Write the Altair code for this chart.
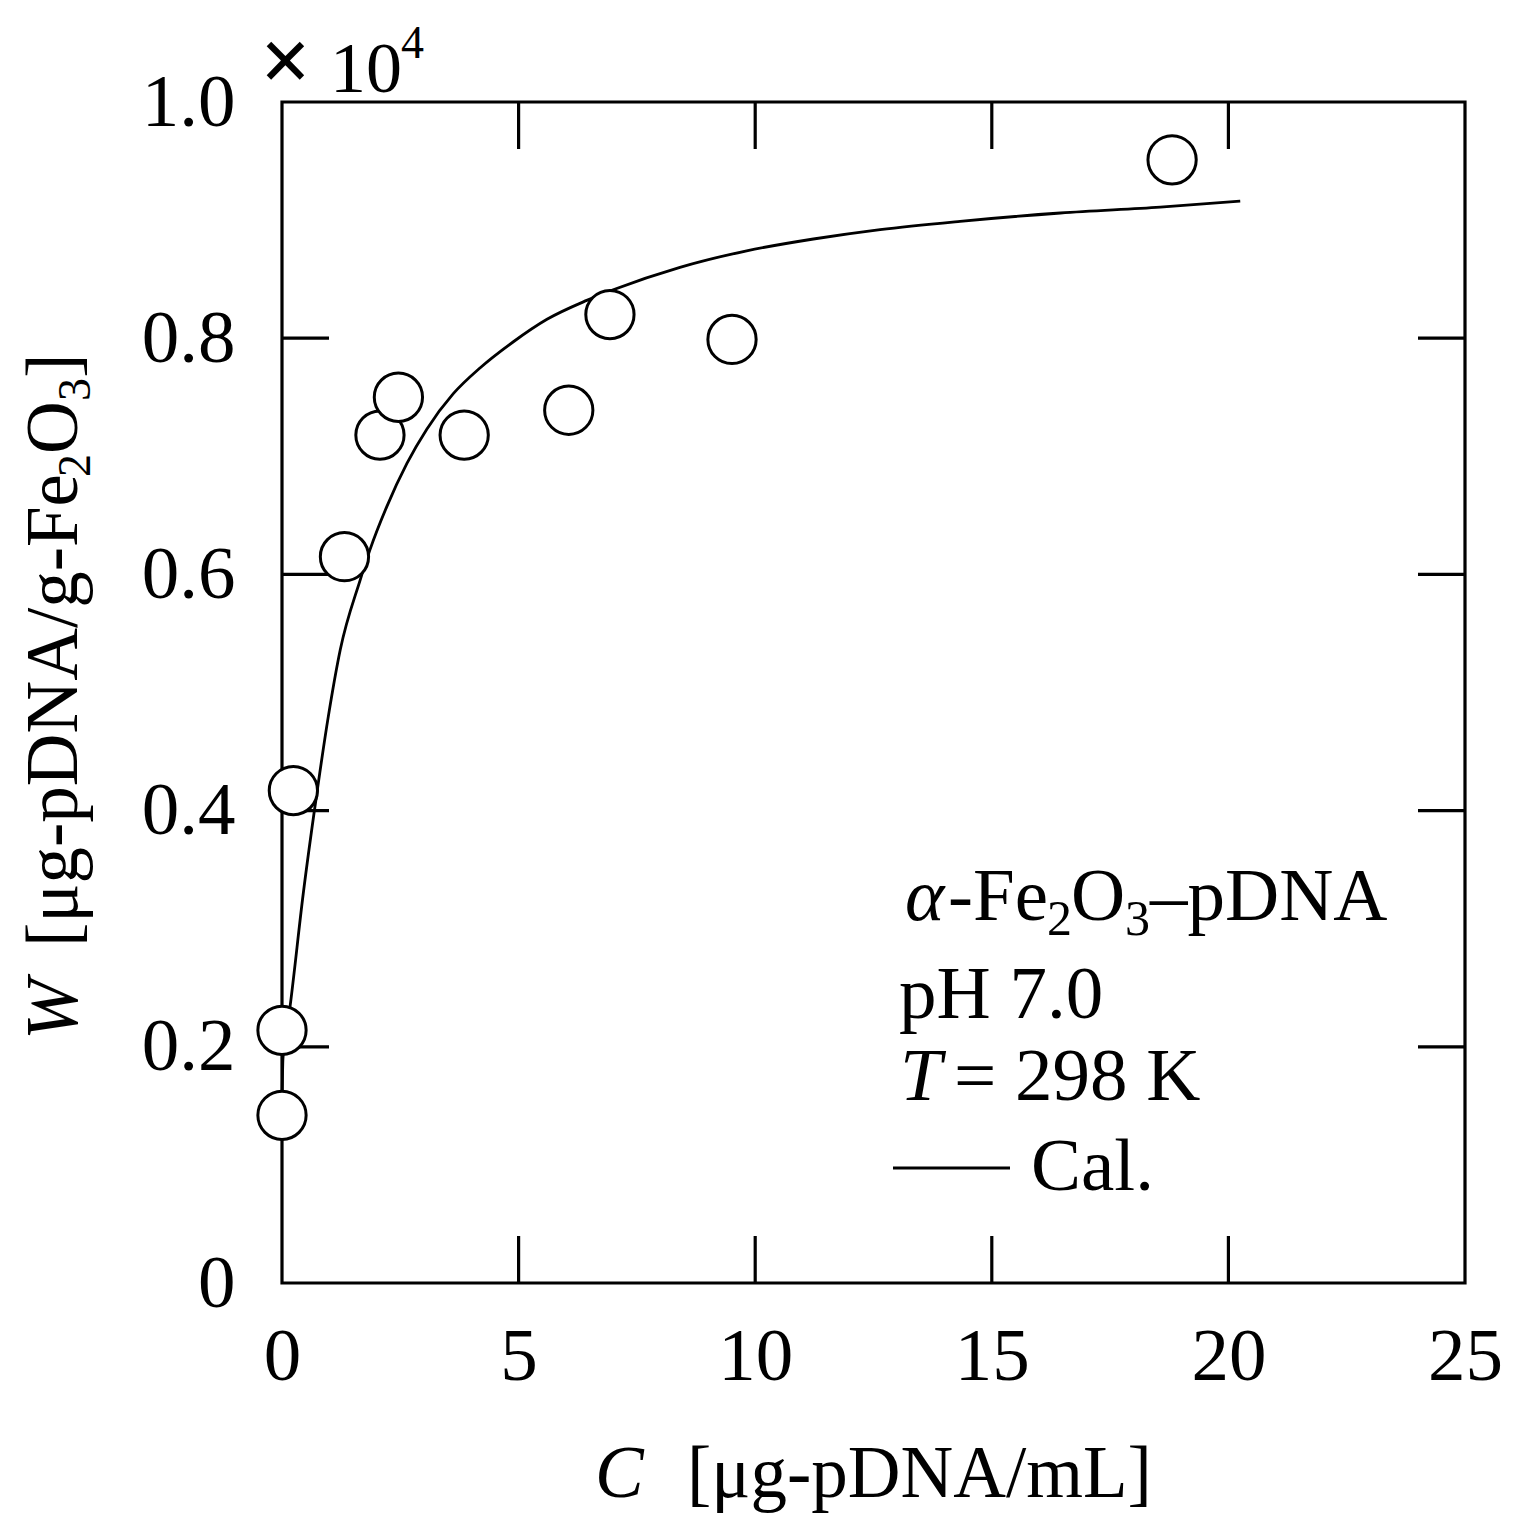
import altair as alt
import pandas as pd

# ---- data (W in units of 10^4 ug-pDNA/g-Fe2O3) ----
C_obs = [0.0, 0.0, 0.24, 1.32, 2.07, 2.46, 3.85, 6.06, 6.93, 9.51, 18.81]
W_obs = [0.142, 0.214, 0.417, 0.615, 0.718, 0.750, 0.718, 0.739, 0.820, 0.799, 0.951]

C_cal = [0.0, 0.02, 0.17, 0.45, 0.72, 0.98, 1.23, 1.65, 1.86, 2.21, 2.64, 3.06,
         3.62, 4.19, 4.89, 5.60, 6.44, 7.00, 8.41, 9.82, 11.23, 12.64, 14.33,
         16.45, 18.56, 20.25]
W_cal = [0.15, 0.19, 0.234, 0.33, 0.41, 0.48, 0.536, 0.595, 0.621, 0.657, 0.694,
         0.723, 0.753, 0.775, 0.797, 0.816, 0.832, 0.841, 0.860, 0.874, 0.884,
         0.892, 0.899, 0.906, 0.911, 0.916]

x_ticks = [0, 5, 10, 15, 20, 25]
y_ticks = [0, 0.2, 0.4, 0.6, 0.8, 1.0]
x_inner = [5, 10, 15, 20]
y_inner = [0.2, 0.4, 0.6, 0.8]

FONT = "Liberation Serif"
W, H = 1183, 1181
TL = 47      # inward tick length
LW = 3.2

xscale = alt.Scale(domain=[0, 25], nice=False, zero=False)
yscale = alt.Scale(domain=[0, 1.0], nice=False, zero=False)
xax = alt.Axis(values=x_ticks, format="d", title=None, labelFlush=False,
               labelOverlap=False, labelPadding=37, domain=False, ticks=False,
               tickSize=0, grid=False, labelFont=FONT, labelFontSize=75,
               labelColor="black")
yax = alt.Axis(values=y_ticks, title=None, labelFlush=False, labelOverlap=False,
               labelPadding=47, domain=False, ticks=False, tickSize=0,
               grid=False, labelFont=FONT, labelFontSize=75, labelColor="black",
               labelExpr="datum.value == 0 ? '0' : format(datum.value, '.1f')")

obs = pd.DataFrame({"C": C_obs, "W": W_obs})
cal = pd.DataFrame({"C": C_cal, "W": W_cal})
dx = pd.DataFrame({"t": x_inner})
dy = pd.DataFrame({"t": y_inner})

rule = dict(color="black", strokeWidth=LW)
ticks_b = alt.Chart(dx).mark_rule(**rule).encode(
    x=alt.X("t:Q", scale=xscale, axis=xax), y=alt.value(H), y2=alt.value(H - TL))
ticks_t = alt.Chart(dx).mark_rule(**rule).encode(
    x=alt.X("t:Q", scale=xscale, axis=xax), y=alt.value(0), y2=alt.value(TL))
ticks_l = alt.Chart(dy).mark_rule(**rule).encode(
    y=alt.Y("t:Q", scale=yscale, axis=yax), x=alt.value(0), x2=alt.value(TL))
ticks_r = alt.Chart(dy).mark_rule(**rule).encode(
    y=alt.Y("t:Q", scale=yscale, axis=yax), x=alt.value(W), x2=alt.value(W - TL))

curve = alt.Chart(cal).mark_line(color="black", strokeWidth=2.8,
                                 interpolate="monotone").encode(
    x=alt.X("C:Q", scale=xscale, axis=xax),
    y=alt.Y("W:Q", scale=yscale, axis=yax))

points = alt.Chart(obs).mark_point(shape="circle", filled=True, fill="white",
                                   stroke="black", strokeWidth=3.0, size=2330,
                                   opacity=1).encode(
    x=alt.X("C:Q", scale=xscale, axis=xax),
    y=alt.Y("W:Q", scale=yscale, axis=yax))


def txt(s, x, y, size=75, style="normal", angle=0, weight="normal"):
    return alt.Chart(pd.DataFrame({"s": [s]})).mark_text(
        align="left", baseline="alphabetic", font=FONT, fontSize=size,
        fontStyle=style, fontWeight=weight, angle=angle, color="black").encode(
        x=alt.value(x), y=alt.value(y), text="s:N")


texts = [
    # multiplier
    txt("\u00d7", -22, -11, size=90, weight="bold"),
    txt("10", 48, -10, size=72),
    txt("4", 119, -44, size=46),
    # legend block
    txt("\u03b1", 623, 818, style="italic"),
    txt("-Fe", 666, 818),
    txt("2", 765, 833, size=50),
    txt("O", 789, 818),
    txt("3", 843, 833, size=50),
    txt("\u2013pDNA", 868, 818),
    txt("pH 7.0", 617, 916),
    txt("T", 618, 998, style="italic"),
    txt("= 298 K", 672, 998),
    txt("Cal.", 749, 1088),
    # x title
    txt("C", 313, 1395, size=73, style="italic"),
    txt("[\u03bcg-pDNA/mL]", 405, 1395, size=73),
    # y title (rotated)
    txt("W", -205, 938, size=73, style="italic", angle=270),
    txt("[\u03bcg-pDNA/g-Fe", -205, 845, size=73, angle=270),
    txt("2", -192, 375, size=46, angle=270),
    txt("O", -205, 352, size=73, angle=270),
    txt("3", -192, 299, size=46, angle=270),
    txt("]", -205, 276, size=73, angle=270),
]

legend_line = alt.Chart(pd.DataFrame({"s": ["Cal."]})).mark_rule(
    color="black", strokeWidth=2.8).encode(
    x=alt.value(611), x2=alt.value(728), y=alt.value(1066))

chart = alt.layer(ticks_b, ticks_t, ticks_l, ticks_r, curve, points,
                  legend_line, *texts).properties(
    width=W, height=H,
    background="white",
    autosize=alt.AutoSizeParams(type="none"),
    padding={"left": 274, "top": 94, "right": 40, "bottom": 232},
).configure_view(stroke="black", strokeWidth=LW).configure_axis(
    domain=False, ticks=False, grid=False,
    labelFont=FONT, labelFontSize=75, labelColor="black",
)

chart.save("out.html", embed_options={"renderer": "svg", "actions": False})
